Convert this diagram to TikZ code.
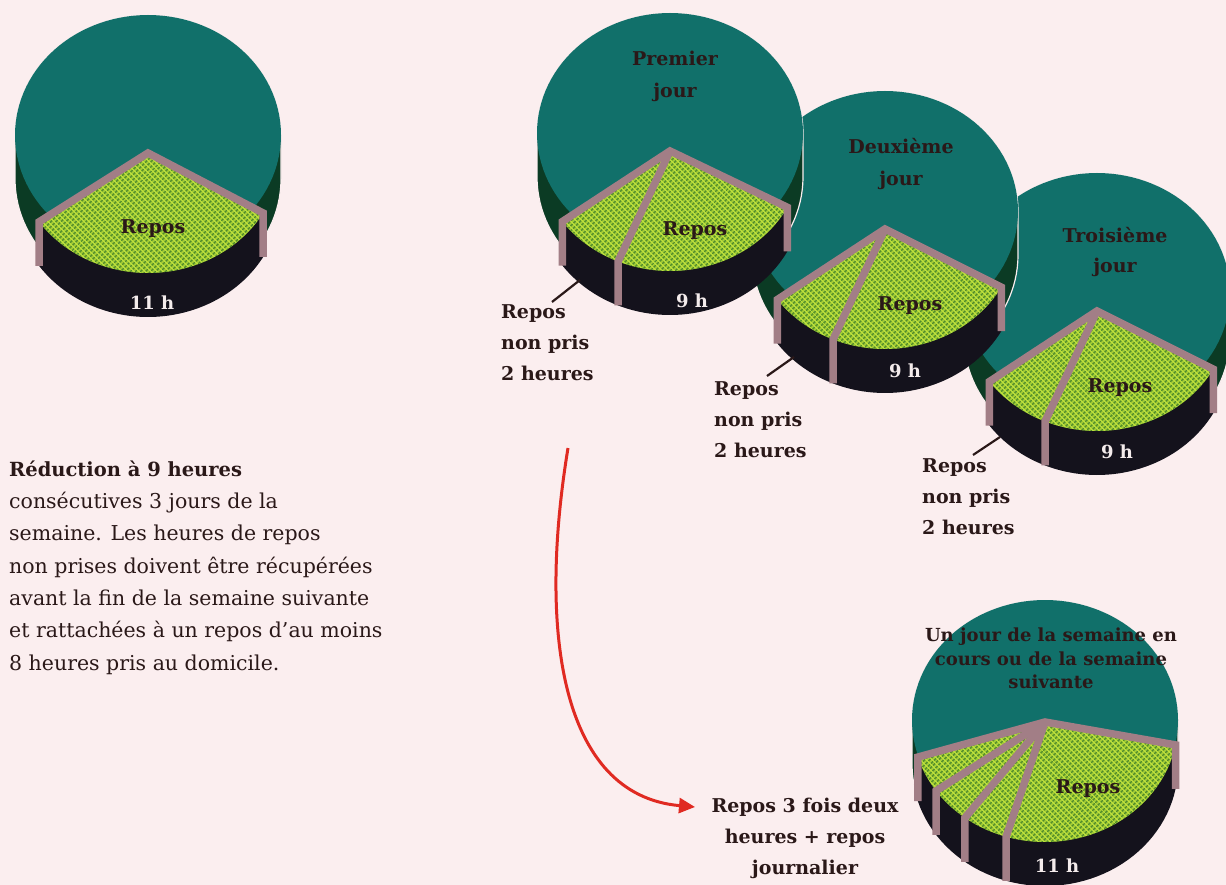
\documentclass[tikz,border=0pt]{standalone}
\usepackage{fontspec}
\setmainfont{DejaVu Serif}
\usetikzlibrary{patterns.meta,arrows.meta}
\definecolor{bg}{HTML}{FBEEEF}
\definecolor{topteal}{HTML}{11706A}
\definecolor{sidegreen}{HTML}{0B3B24}
\definecolor{sideblack}{HTML}{14121C}
\definecolor{mauve}{HTML}{A27E86}
\definecolor{slicegreen}{HTML}{BCDF3A}
\definecolor{meshgreen}{HTML}{4A882A}
\definecolor{ink}{HTML}{2A1818}
\definecolor{arrowred}{HTML}{E02A22}
\definecolor{hourwhite}{HTML}{F4ECEC}

\tikzdeclarepattern{
  name=mesh,
  type=uncolored,
  bottom left={(0pt,0pt)},
  top right={(3.6pt,3.6pt)},
  tile size={(3.6pt,3.6pt)},
  tile transformation={rotate=45},
  code={\draw[line width=1.15pt] (0pt,1.8pt) -- (3.6pt,1.8pt) (1.8pt,0pt) -- (1.8pt,3.6pt);}
}

\def\RX{133}
\def\RY{120}
\def\H{44}

\tikzset{
  rim/.style={draw=mauve, line width=7.5pt, line join=miter},
  lbl/.style={font=\bfseries\fontsize{19}{31}\selectfont, text=ink, inner sep=0pt, align=left, anchor=north west},
  ttl/.style={font=\bfseries\fontsize{19}{32}\selectfont, text=ink, inner sep=0pt, align=center, anchor=north},
  rep/.style={font=\bfseries\fontsize{19}{22}\selectfont, text=ink, inner sep=0pt},
  hrs/.style={font=\bfseries\fontsize{18}{22}\selectfont, text=hourwhite, inner sep=0pt},
  leader/.style={draw=ink, line width=2.2pt},
  arrowline/.style={draw=arrowred, line width=3pt, -{Triangle[length=16pt,width=15pt]}}
}

% #1 cx, #2 cy, #3 explode, #4 start angle, #5 end angle
\newcommand\drawpie[5]{%
  \path[fill=sidegreen, draw=bg, line width=1.2pt]
    plot[domain=0:180,samples=61] ({#1+\RX*cos(\x)},{#2-\RY*sin(\x)})
    -- plot[domain=180:360,samples=61] ({#1+\RX*cos(\x)},{#2+\H-\RY*sin(\x)}) -- cycle;
  \fill[topteal] plot[domain=0:360,samples=121] ({#1+\RX*cos(\x)},{#2-\RY*sin(\x)}) -- cycle;
  \fill[sideblack] plot[domain=#4:#5,samples=50] ({#1+\RX*cos(\x)},{#2+#3-\RY*sin(\x)})
    -- plot[domain=#5:#4,samples=50] ({#1+\RX*cos(\x)},{#2+#3+\H-\RY*sin(\x)}) -- cycle;
  \path[pattern=mesh, pattern color=meshgreen, preaction={fill=slicegreen}]
    (#1,#2+#3) -- plot[domain=#4:#5,samples=50] ({#1+\RX*cos(\x)},{#2+#3-\RY*sin(\x)}) -- cycle;
  \draw[rim] ({#1+\RX*cos(#4)},{#2+#3+\H-\RY*sin(#4)}) -- ({#1+\RX*cos(#4)},{#2+#3-\RY*sin(#4)})
    -- (#1,#2+#3) -- ({#1+\RX*cos(#5)},{#2+#3-\RY*sin(#5)}) -- ({#1+\RX*cos(#5)},{#2+#3+\H-\RY*sin(#5)});
}
% #1 cx, #2 cy, #3 explode, #4 list of split angles
\newcommand\drawsplits[4]{%
  \foreach \s in {#4} {
    \draw[rim] (#1,#2+#3) -- ({#1+\RX*cos(\s)},{#2+#3-\RY*sin(\s)}) -- ({#1+\RX*cos(\s)},{#2+#3+\H-\RY*sin(\s)});
  }
}

\begin{document}
\begin{tikzpicture}[x=1pt,y=-1pt]
\useasboundingbox (0,0) rectangle (1226,885);
\clip (0,0) rectangle (1226,885);
\fill[bg] (0,0) rectangle (1226,885);

% ---- pie 1 (left)
\drawpie{148}{135}{18}{215}{330}
\node[rep] (p1rep) at (153,229) {Repos};
\node[hrs] (p1h) at (152,303) {11 h};

% ---- pie 5 (bottom right)
\drawpie{1045}{720}{2}{197}{349}
\drawsplits{1045}{720}{2}{215,233,253}
\node[ttl, font=\bfseries\fontsize{18}{23.5}\selectfont] (p5t) at (1051,625) {\strut Un jour de la semaine en\\cours ou de la semaine\\suivante};
\node[rep] (p5rep) at (1088,789) {Repos};
\node[hrs] (p5h) at (1057,866) {11 h};

% ---- pie 4 (troisieme jour)
\drawpie{1097}{293}{18}{216}{331}
\drawsplits{1097}{293}{18}{247}
\node[ttl, font=\bfseries\fontsize{19}{30}\selectfont] (p4t) at (1115,221.7) {\strut Troisième\\jour};
\node[rep] (p4rep) at (1120,388) {Repos};
\node[hrs] (p4h) at (1117,452) {9 h};

% ---- pie 3 (deuxieme jour)
\drawpie{885}{211}{18}{216}{331}
\drawsplits{885}{211}{18}{247}
\node[ttl] (p3t) at (901,131.3) {\strut Deuxième\\jour};
\node[rep] (p3rep) at (910,306) {Repos};
\node[hrs] (p3h) at (905,371) {9 h};

% ---- pie 2 (premier jour)
\drawpie{670}{133}{18}{216}{332}
\drawsplits{670}{133}{18}{247}
\node[ttl] (p2t) at (675,43.3) {\strut Premier\\jour};
\node[rep] (p2rep) at (695,231) {Repos};
\node[hrs] (p2h) at (692,301) {9 h};

% ---- labels "Repos non pris"
\node[lbl] (lab2) at (501,297) {\strut Repos\\non pris\\2 heures};
\node[lbl] (lab3) at (714,374) {\strut Repos\\non pris\\2 heures};
\node[lbl] (lab4) at (922,451) {\strut Repos\\non pris\\2 heures};
\coordinate (l2a) at (552,302); \coordinate (l2b) at (580,280);
\coordinate (l3a) at (767,376); \coordinate (l3b) at (794,357);
\coordinate (l4a) at (973,455); \coordinate (l4b) at (1000,437);
\draw[leader] (l2a) -- (l2b);
\draw[leader] (l3a) -- (l3b);
\draw[leader] (l4a) -- (l4b);

% ---- paragraph
\node[inner sep=0pt, anchor=north west, align=left, text=ink, font=\fontsize{20.5}{32.3}\selectfont] (para) at (9,453.4)
  {\strut\textbf{\fontsize{19.5}{32.3}\selectfont Réduction à 9 heures}\\
   consécutives 3 jours de la\\
   semaine. Les heures de repos\\
   non prises doivent être récupérées\\
   avant la fin de la semaine suivante\\
   et rattachées à un repos d'au moins\\
   8 heures pris au domicile.};

% ---- arrow and its text
\node[ttl, font=\bfseries\fontsize{19}{31}\selectfont] (rep3) at (805,791) {\strut Repos 3 fois deux\\heures + repos\\journalier};
\coordinate (arrS) at (568,448);
\coordinate (arrE) at (695,807);
\draw[arrowline] (arrS) .. controls (538,630) and (560,795) .. (arrE);
\end{tikzpicture}
\end{document}
